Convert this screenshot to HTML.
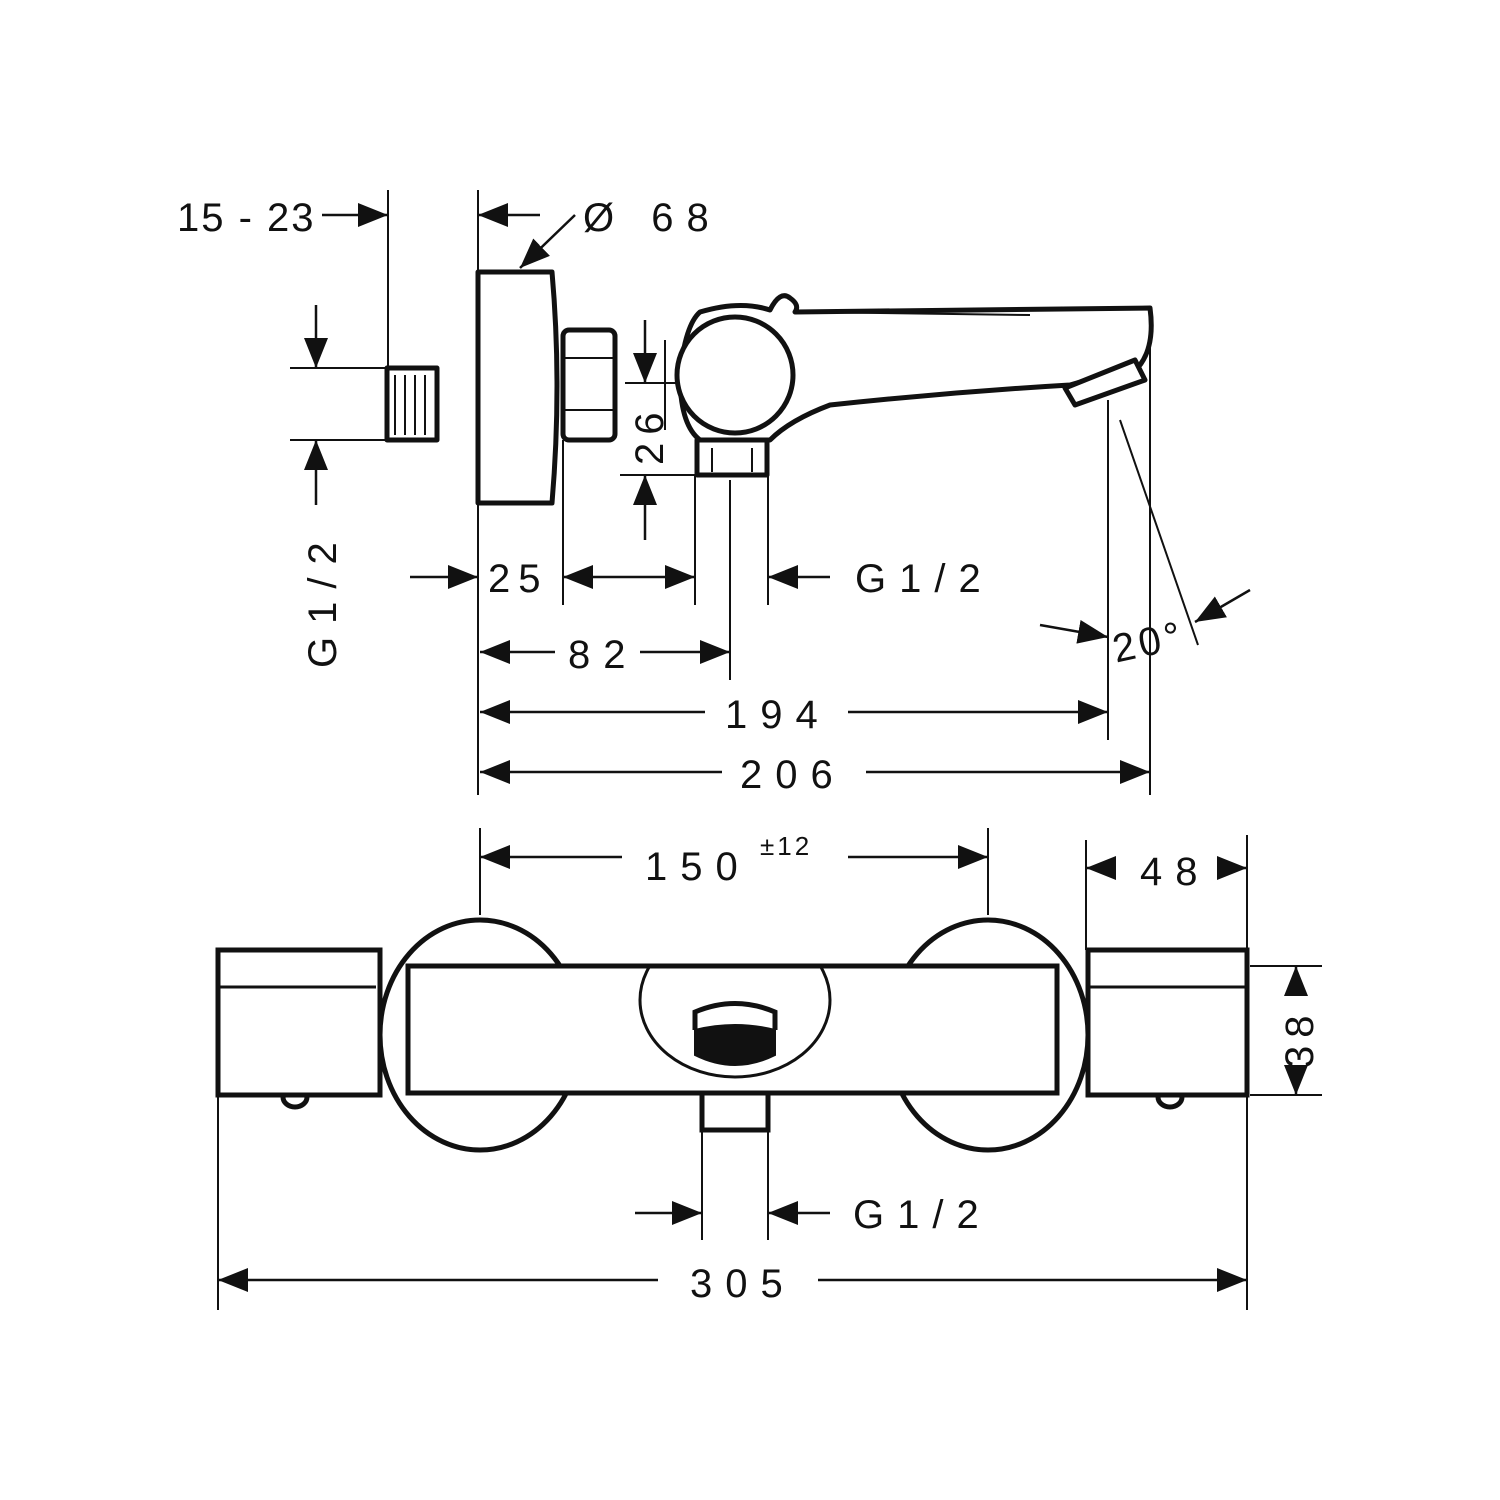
<!DOCTYPE html>
<html><head><meta charset="utf-8"><style>body{margin:0;background:#fff}svg{display:block}text{font-family:"Liberation Sans",sans-serif;font-size:40px;letter-spacing:13px;fill:#111}</style></head><body>
<svg width="1500" height="1500" viewBox="0 0 1500 1500" xmlns="http://www.w3.org/2000/svg">
<defs>
<marker id="a" markerUnits="userSpaceOnUse" markerWidth="32" markerHeight="24" refX="30" refY="12" orient="auto"><path d="M0,0 L30,12 L0,24 Z" fill="#111"/></marker>
<marker id="s" markerUnits="userSpaceOnUse" markerWidth="32" markerHeight="24" refX="0" refY="12" orient="auto"><path d="M30,0 L0,12 L30,24 Z" fill="#111"/></marker>
<clipPath id="bc"><rect x="408" y="966" width="649" height="127"/></clipPath>
</defs>
<g stroke="#111" fill="none">
<g stroke-width="2">
<line x1="388" y1="190" x2="388" y2="440"/>
<line x1="478" y1="190" x2="478" y2="270"/>
<line x1="478" y1="505" x2="478" y2="795"/>
<line x1="290" y1="368" x2="385" y2="368"/>
<line x1="290" y1="440" x2="385" y2="440"/>
<line x1="563" y1="440" x2="563" y2="605"/>
<line x1="695" y1="475" x2="695" y2="605"/>
<line x1="730" y1="480" x2="730" y2="680"/>
<line x1="768" y1="475" x2="768" y2="605"/>
<line x1="1108" y1="400" x2="1108" y2="740"/>
<line x1="1150" y1="320" x2="1150" y2="795"/>
<line x1="625" y1="383" x2="680" y2="383"/>
<line x1="620" y1="475" x2="697" y2="475"/>
<line x1="1120" y1="420" x2="1198" y2="645"/>
<line x1="480" y1="828" x2="480" y2="915"/>
<line x1="988" y1="828" x2="988" y2="915"/>
<line x1="1086" y1="840" x2="1086" y2="950"/>
<line x1="1247" y1="835" x2="1247" y2="1310"/>
<line x1="218" y1="1095" x2="218" y2="1310"/>
<line x1="1250" y1="966" x2="1322" y2="966"/>
<line x1="1250" y1="1095" x2="1322" y2="1095"/>
<line x1="702" y1="1130" x2="702" y2="1240"/>
<line x1="768" y1="1130" x2="768" y2="1240"/>
</g>
<g stroke-width="2.5">
<line x1="322" y1="215" x2="388" y2="215" marker-end="url(#a)"/>
<line x1="478" y1="215" x2="540" y2="215" marker-start="url(#s)"/>
<line x1="575" y1="215" x2="520" y2="268" marker-end="url(#a)"/>
<line x1="316" y1="305" x2="316" y2="368" marker-end="url(#a)"/>
<line x1="316" y1="505" x2="316" y2="440" marker-end="url(#a)"/>
<line x1="645" y1="320" x2="645" y2="383" marker-end="url(#a)"/>
<line x1="645" y1="540" x2="645" y2="475" marker-end="url(#a)"/>
<line x1="410" y1="577" x2="478" y2="577" marker-end="url(#a)"/>
<line x1="563" y1="577" x2="695" y2="577" marker-start="url(#s)" marker-end="url(#a)"/>
<line x1="830" y1="577" x2="768" y2="577" marker-end="url(#a)"/>
<line x1="480" y1="652" x2="555" y2="652" marker-start="url(#s)"/>
<line x1="640" y1="652" x2="730" y2="652" marker-end="url(#a)"/>
<line x1="480" y1="712" x2="705" y2="712" marker-start="url(#s)"/>
<line x1="848" y1="712" x2="1108" y2="712" marker-end="url(#a)"/>
<line x1="480" y1="772" x2="722" y2="772" marker-start="url(#s)"/>
<line x1="866" y1="772" x2="1150" y2="772" marker-end="url(#a)"/>
<line x1="1040" y1="625" x2="1108" y2="637" marker-end="url(#a)"/>
<line x1="1250" y1="590" x2="1195" y2="622" marker-end="url(#a)"/>
<line x1="480" y1="857" x2="622" y2="857" marker-start="url(#s)"/>
<line x1="848" y1="857" x2="988" y2="857" marker-end="url(#a)"/>
<line x1="1086" y1="868" x2="1116" y2="868" marker-start="url(#s)"/>
<line x1="1217" y1="868" x2="1247" y2="868" marker-end="url(#a)"/>
<line x1="1296" y1="996" x2="1296" y2="966" marker-end="url(#a)"/>
<line x1="1296" y1="1065" x2="1296" y2="1095" marker-end="url(#a)"/>
<line x1="635" y1="1213" x2="702" y2="1213" marker-end="url(#a)"/>
<line x1="830" y1="1213" x2="768" y2="1213" marker-end="url(#a)"/>
<line x1="218" y1="1280" x2="658" y2="1280" marker-start="url(#s)"/>
<line x1="818" y1="1280" x2="1247" y2="1280" marker-end="url(#a)"/>
</g>
<g stroke-width="5" stroke-linejoin="round">
<rect x="387" y="368" width="50" height="72" fill="#fff"/>
<path d="M478,272 L552,272 Q562,385 552,503 L478,503 Z" fill="#fff"/>
<rect x="563" y="330" width="52" height="110" rx="6" fill="#fff"/>
<path d="M700,312 Q740,300 770,310 Q780,290 790,298 Q800,305 795,312 L1150,308 Q1155,345 1140,365 L1070,385 Q950,392 830,405 Q790,420 770,440 L700,440 Q680,425 680,375 Q685,325 700,312 Z" fill="#fff"/>
<circle cx="735" cy="375" r="58" fill="#fff"/>
<rect x="697" y="440" width="70" height="35" fill="#fff"/>
<path d="M1065,388 L1135,360 L1145,380 L1075,405 Z" fill="#fff"/>
</g>
<g stroke-width="2">
<line x1="395" y1="375" x2="395" y2="435"/><line x1="405" y1="375" x2="405" y2="435"/><line x1="415" y1="375" x2="415" y2="435"/><line x1="425" y1="375" x2="425" y2="435"/>
<line x1="565" y1="358" x2="613" y2="358"/><line x1="565" y1="410" x2="613" y2="410"/>
<line x1="800" y1="312" x2="1030" y2="315"/>
<line x1="665" y1="340" x2="665" y2="430"/>
<line x1="712" y1="448" x2="712" y2="472"/><line x1="752" y1="448" x2="752" y2="472"/>
</g>
<g stroke-width="5">
<ellipse cx="480" cy="1035" rx="100" ry="115"/>
<ellipse cx="988" cy="1035" rx="100" ry="115"/>
<rect x="218" y="950" width="162" height="145" fill="#fff"/>
<line x1="220" y1="987" x2="376" y2="987" stroke-width="3"/>
<rect x="1088" y="950" width="159" height="145" fill="#fff"/>
<line x1="1090" y1="987" x2="1245" y2="987" stroke-width="3"/>
<rect x="408" y="966" width="649" height="127" fill="#fff"/>
<rect x="702" y="1093" width="66" height="37" fill="#fff"/>
<path d="M283,1097 A12,10 0 0 0 307,1097"/>
<path d="M1158,1097 A12,10 0 0 0 1182,1097"/>
</g>
<ellipse cx="735" cy="1000" rx="95" ry="77" stroke-width="3" clip-path="url(#bc)"/>
<rect x="408" y="966" width="649" height="127" stroke-width="5"/>
<path d="M695,1030 L695,1012 Q735,995 775,1012 L775,1030" stroke-width="5"/>
<path d="M695,1030 Q735,1020 775,1030 L775,1055 Q735,1075 695,1055 Z" fill="#111" stroke-width="2"/>
</g>
<text x="177" y="231" style="letter-spacing:2px">15 - 23</text>
<text x="583" y="231">Ø 68</text>
<text x="488" y="592" style="letter-spacing:8px">25</text>
<text x="855" y="592">G1/2</text>
<text x="568" y="668">82</text>
<text x="725" y="728">194</text>
<text x="740" y="788">206</text>
<text x="1112" y="655" transform="rotate(-12 1150 640)" style="letter-spacing:4px">20°</text>
<text transform="translate(336,668) rotate(-90)">G1/2</text>
<text transform="translate(663,465) rotate(-90)" style="letter-spacing:8px">26</text>
<text x="645" y="880">150</text>
<text x="760" y="855" style="font-size:26px;letter-spacing:3px">±12</text>
<text x="1140" y="885">48</text>
<text transform="translate(1313,1068) rotate(-90)" style="letter-spacing:8px">38</text>
<text x="853" y="1228">G1/2</text>
<text x="690" y="1297">305</text>
</svg>
</body></html>
